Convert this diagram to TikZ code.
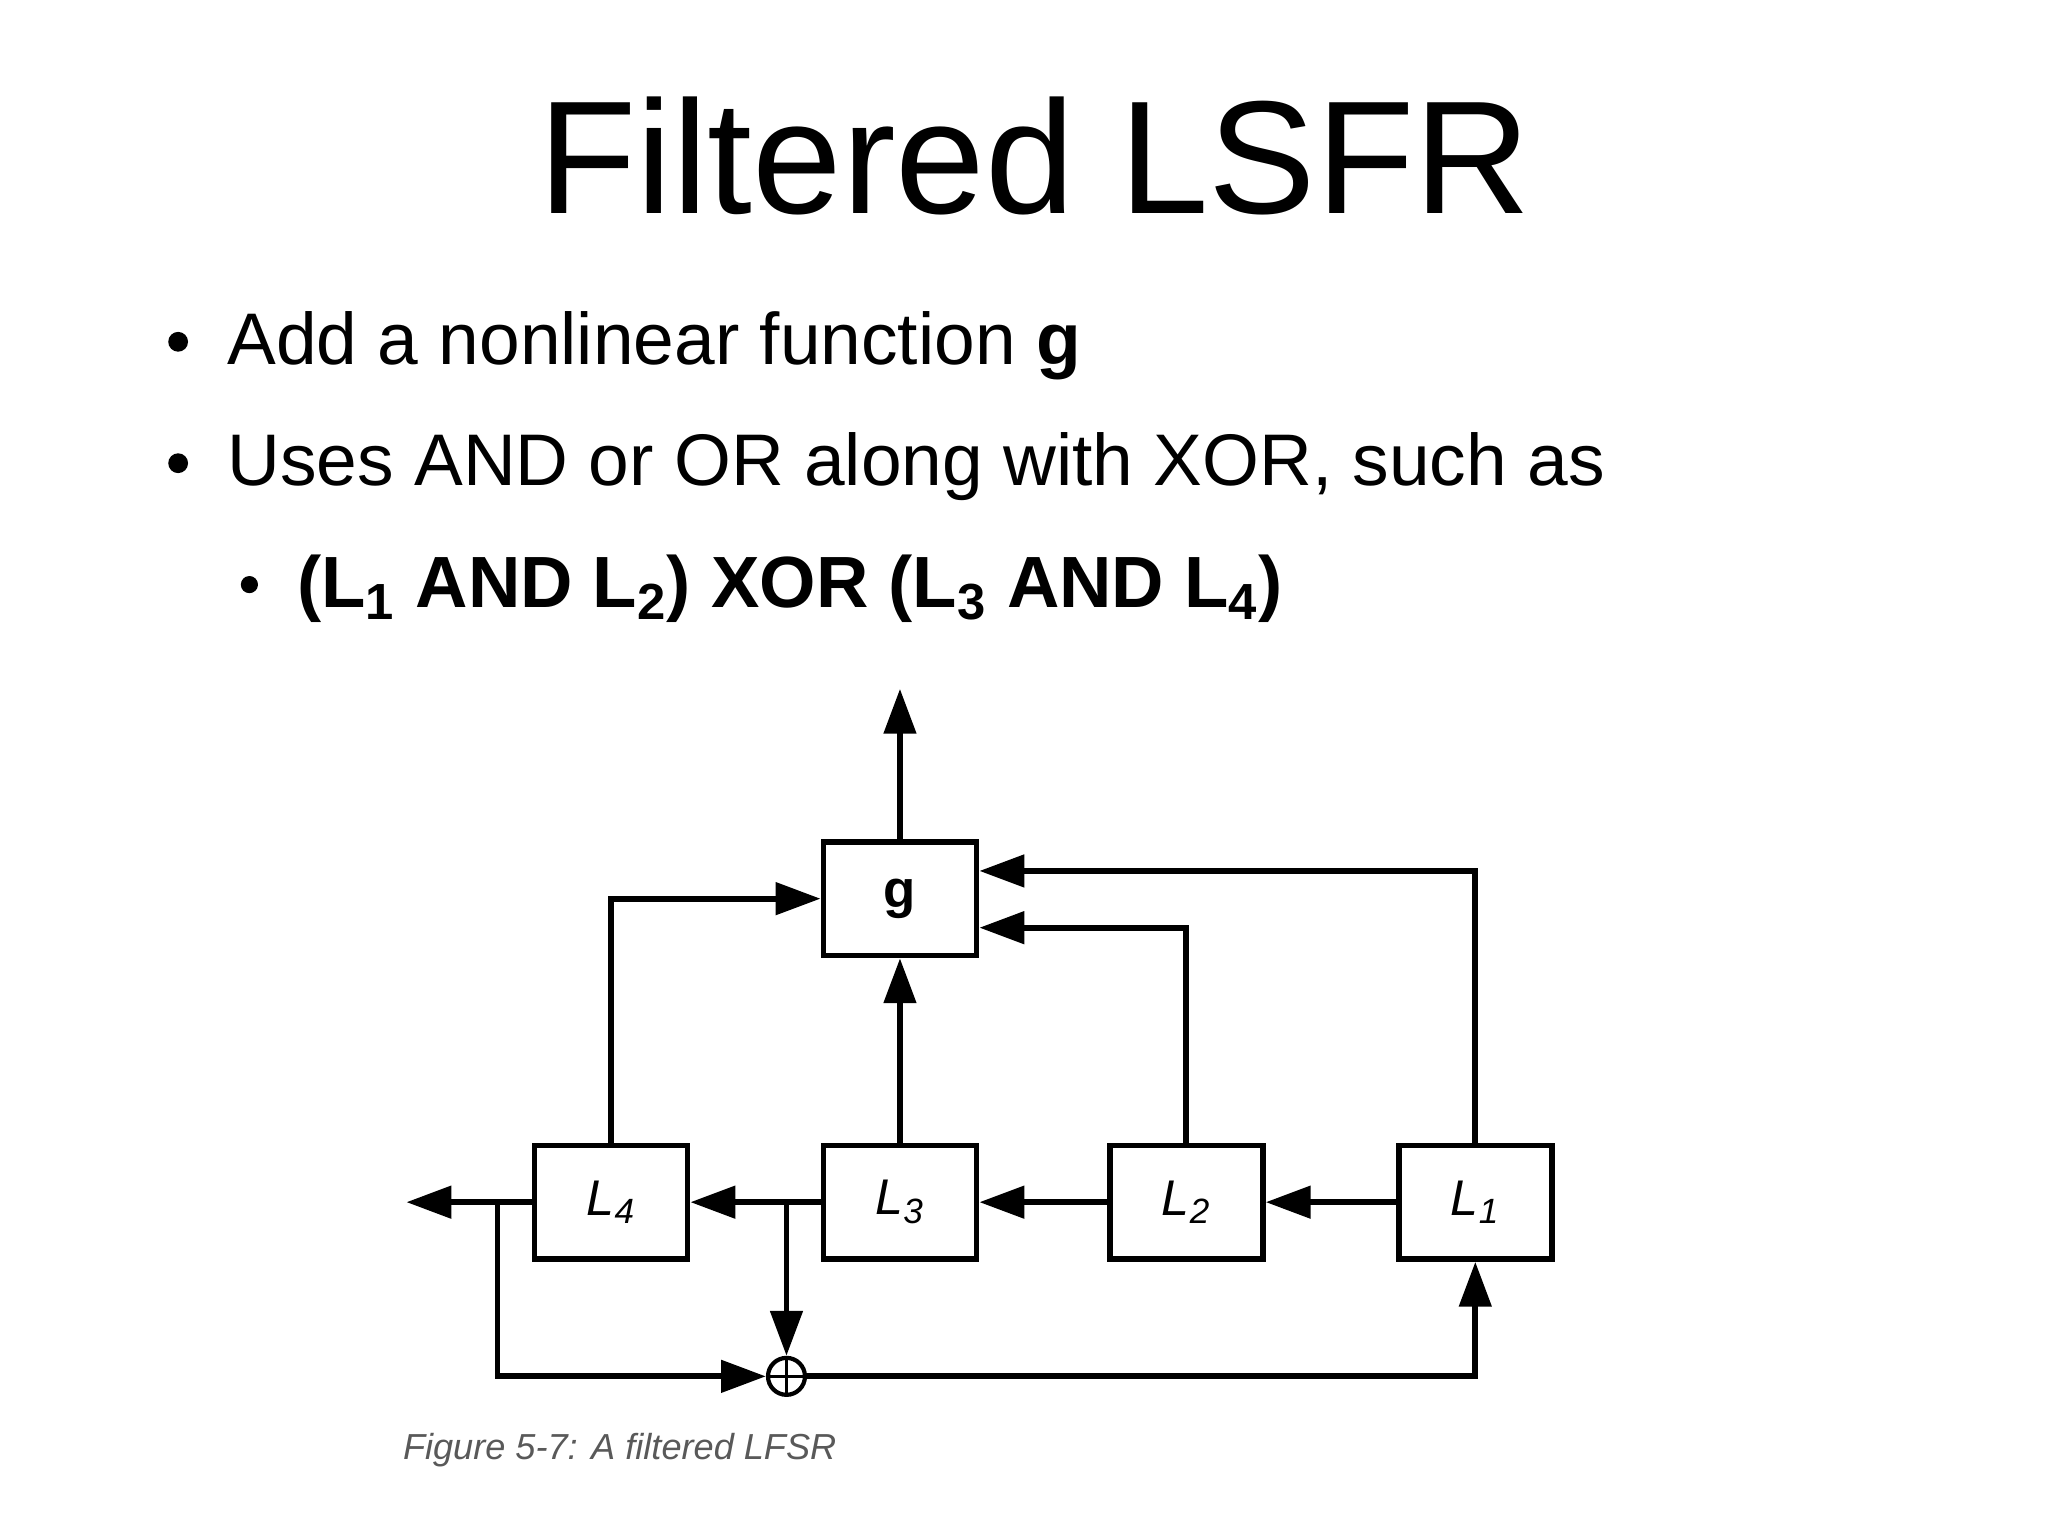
\documentclass[tikz,border=0pt]{standalone}
\usepackage{fontspec}
\setmainfont{Liberation Sans}
\usetikzlibrary{arrows.meta}
\begin{document}
\begin{tikzpicture}[x=0.5pt,y=-0.5pt,
  box/.style={draw,line width=2.2pt,minimum width=58pt,minimum height=43pt,inner sep=0pt},
  w/.style={line width=2.2pt},
  a/.style={w,-{Triangle[length=17pt,width=12pt]}},
  txt/.style={anchor=base west,inner sep=0pt}]
\useasboundingbox (0,0) rectangle (1552,1164);
\node[inner sep=0pt,anchor=base] (title) at (784,162) {\fontsize{61}{70}\selectfont Filtered LSFR};
\node[txt] (b1) at (172,276) {\fontsize{27.7}{30}\selectfont Add a nonlinear function \textbf{g}};
\node[txt] (b2) at (172,368) {\fontsize{27.7}{30}\selectfont Uses AND or OR along with XOR, such as};
\node[txt] (b3) at (225,460) {\fontsize{27.5}{30}\selectfont\bfseries (L\textsubscript{1} AND L\textsubscript{2}) XOR (L\textsubscript{3} AND L\textsubscript{4})};
\fill (135,259) circle (7.5) (135,351) circle (7.5) (189,443) circle (6.5);
\node[box] (g) at (682,681) {\fontsize{20}{22}\selectfont\bfseries g};
\node[box] (L4) at (463,911) {\fontsize{19}{20}\selectfont\itshape L\textsubscript{4}};
\node[box] (L3) at (682,911) {\fontsize{19}{20}\selectfont\itshape L\textsubscript{3}};
\node[box] (L2) at (899,911) {\fontsize{19}{20}\selectfont\itshape L\textsubscript{2}};
\node[box] (L1) at (1118,911) {\fontsize{19}{20}\selectfont\itshape L\textsubscript{1}};
\node[draw,circle,line width=1.6pt,minimum size=14pt,inner sep=0pt] (x) at (596,1043) {};
\draw[line width=1.3pt] (x.north)--(x.south) (x.west)--(x.east);
\coordinate (out) at (682,522);
\coordinate (lout) at (308,911);
\draw[a] (g) -- (out);
\draw[a] (L4) -- (lout);
\draw[a] (L3) -- (L4);
\draw[a] (L2) -- (L3);
\draw[a] (L1) -- (L2);
\draw[a] (L3) -- (g);
\draw[a] (L4.north) |- (g.west);
\draw[a] (L2.north) |- ([yshift=-11pt]g.east);
\draw[a] (L1.north) |- ([yshift=10.5pt]g.east);
\draw[a] (377,911) |- (x.west);
\draw[a] (596,911) -- (x.north);
\draw[a] (x.east) -| (L1.south);
\node[anchor=base west,inner sep=0pt,text=black!65] (cap) at (305,1106) {\fontsize{13.7}{16}\selectfont\itshape Figure 5-7: A filtered LFSR};
\end{tikzpicture}
\end{document}
